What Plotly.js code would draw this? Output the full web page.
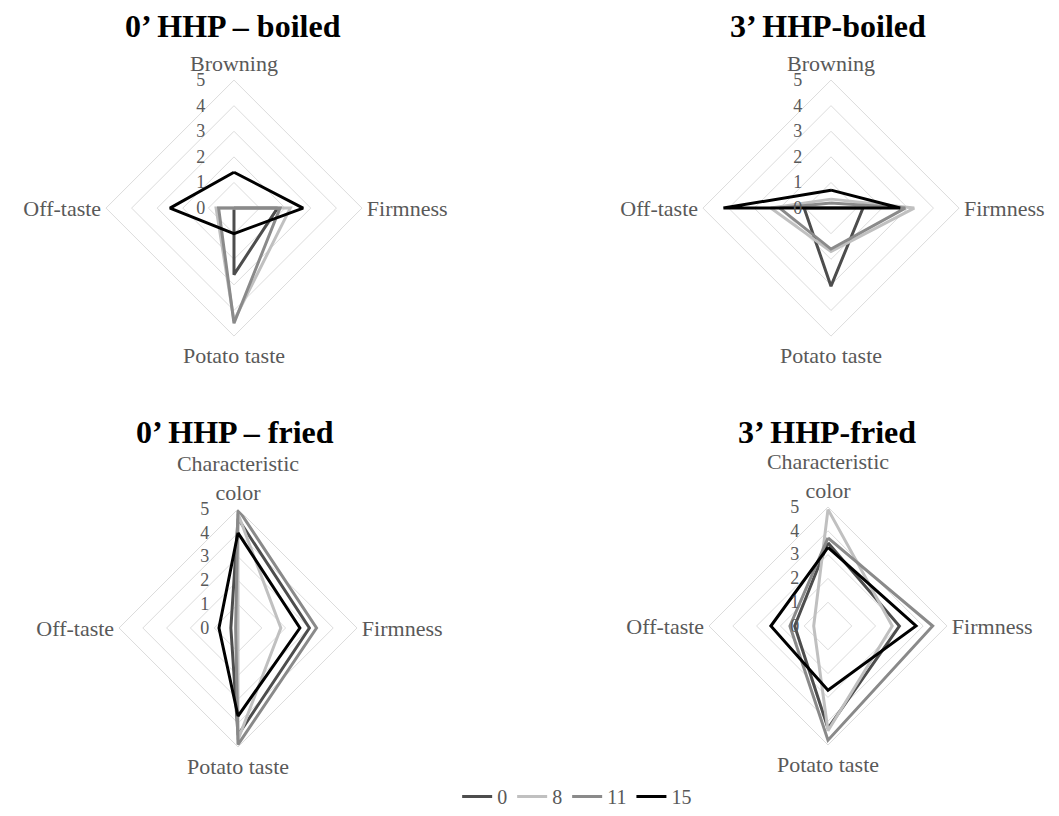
<!DOCTYPE html>
<html>
<head>
<meta charset="utf-8">
<script src="https://cdn.plot.ly/plotly-3.0.1.min.js"></script>
<style>html,body{margin:0;padding:0;background:#fff;}#chart{width:1059px;height:816px;}</style>
</head>
<body>
<div id="chart"></div>
<script>
// Categories
const boiledAttrs = ['Browning', 'Firmness', 'Potato taste', 'Off-taste'];
const friedAttrs = ['Characteristic<br>color', 'Firmness', 'Potato taste', 'Off-taste'];
const storageDays = ['0', '8', '11', '15'];
const panelTitles = ['0\u2019 HHP \u2013 boiled', '3\u2019 HHP-boiled', '0\u2019 HHP \u2013 fried', '3\u2019 HHP-fried'];
const radialTicks = [0, 1, 2, 3, 4, 5];

// 0' HHP – boiled
const boiled0_d0 = [0, 1.7, 2.6, 0];
const boiled0_d8 = [0, 2.2, 4.4, 0.7];
const boiled0_d11 = [0, 1.8, 4.5, 0.6];
const boiled0_d15 = [1.4, 2.7, 1.0, 2.5];

// 3' HHP-boiled
const boiled3_d0 = [0, 1.25, 3.05, 1.05];
const boiled3_d8 = [0.35, 3.25, 1.7, 2.35];
const boiled3_d11 = [0.2, 2.9, 1.6, 2.0];
const boiled3_d15 = [0.7, 2.7, 0, 4.2];

// 0' HHP – fried
const fried0_d0 = [4.6, 3.0, 4.5, 0.3];
const fried0_d8 = [4.8, 1.8, 4.7, 0];
const fried0_d11 = [5.0, 3.3, 4.9, 0.1];
const fried0_d15 = [4.0, 2.6, 3.7, 0.8];

// 3' HHP-fried
const fried3_d0 = [3.5, 3.0, 4.3, 1.4];
const fried3_d8 = [4.9, 2.7, 4.4, 0.6];
const fried3_d11 = [3.7, 4.4, 4.8, 1.6];
const fried3_d15 = [3.3, 3.7, 2.7, 2.4];

const seriesColors = ['#4d4d4d', '#c0c0c0', '#8a8a8a', '#000000'];

const panels = [
  {attrs: boiledAttrs, series: [boiled0_d0, boiled0_d8, boiled0_d11, boiled0_d15]},
  {attrs: boiledAttrs, series: [boiled3_d0, boiled3_d8, boiled3_d11, boiled3_d15]},
  {attrs: friedAttrs, series: [fried0_d0, fried0_d8, fried0_d11, fried0_d15]},
  {attrs: friedAttrs, series: [fried3_d0, fried3_d8, fried3_d11, fried3_d15]}
];

// layout geometry (paper fractions)
const domains = [
  {x: [0.1001, 0.3418], y: [0.588, 0.902]},
  {x: [0.6638, 0.9056], y: [0.588, 0.902]},
  {x: [0.1124, 0.3371], y: [0.0846, 0.3762]},
  {x: [0.6695, 0.8942], y: [0.0870, 0.3787]}
];
const titlePos = [
  {x: 0.2200, y: 0.968},
  {x: 0.7820, y: 0.968},
  {x: 0.2220, y: 0.470},
  {x: 0.7810, y: 0.470}
];

const serif = 'Liberation Serif, Times New Roman, serif';
const traces = [];
const layout = {
  width: 1059, height: 816,
  margin: {l: 0, r: 0, t: 0, b: 0},
  paper_bgcolor: '#ffffff',
  showlegend: true,
  legend: {
    orientation: 'h', x: 0.545, xanchor: 'center', y: 0.0, yanchor: 'bottom',
    font: {family: serif, size: 20, color: '#595959'},
    itemwidth: 30, tracegroupgap: 0
  },
  annotations: []
};

panels.forEach((p, i) => {
  const key = i === 0 ? 'polar' : 'polar' + (i + 1);
  p.series.forEach((vals, s) => {
    traces.push({
      type: 'scatterpolar',
      subplot: key,
      theta: p.attrs.concat([p.attrs[0]]),
      r: vals.concat([vals[0]]),
      mode: 'lines',
      name: storageDays[s],
      line: {color: seriesColors[s], width: 3},
      showlegend: i === 0,
      hoverinfo: 'skip'
    });
  });
  layout[key] = {
    domain: domains[i],
    gridshape: 'linear',
    bgcolor: 'rgba(0,0,0,0)',
    radialaxis: {
      range: [0, 5], tickvals: radialTicks, angle: 90, side: 'counterclockwise',
      showline: false, gridcolor: '#dcdcdc', gridwidth: 1,
      ticks: 'outside', ticklen: 22, tickcolor: 'rgba(0,0,0,0)',
      tickangle: 90,
      tickfont: {family: serif, size: 18, color: '#595959'}
    },
    angularaxis: {
      rotation: 90, direction: 'clockwise', categoryarray: p.attrs, type: 'category',
      showgrid: false, showline: true, linecolor: '#dcdcdc', linewidth: 1,
      ticks: '', tickfont: {family: serif, size: 22, color: '#595959'}
    }
  };
  layout.annotations.push({
    text: '<b>' + panelTitles[i] + '</b>', xref: 'paper', yref: 'paper',
    x: titlePos[i].x, y: titlePos[i].y, xanchor: 'center', yanchor: 'middle',
    showarrow: false, font: {family: serif, size: 32, color: '#000000'}
  });
});

Plotly.newPlot('chart', traces, layout, {displayModeBar: false, staticPlot: true});
</script>
</body>
</html>
